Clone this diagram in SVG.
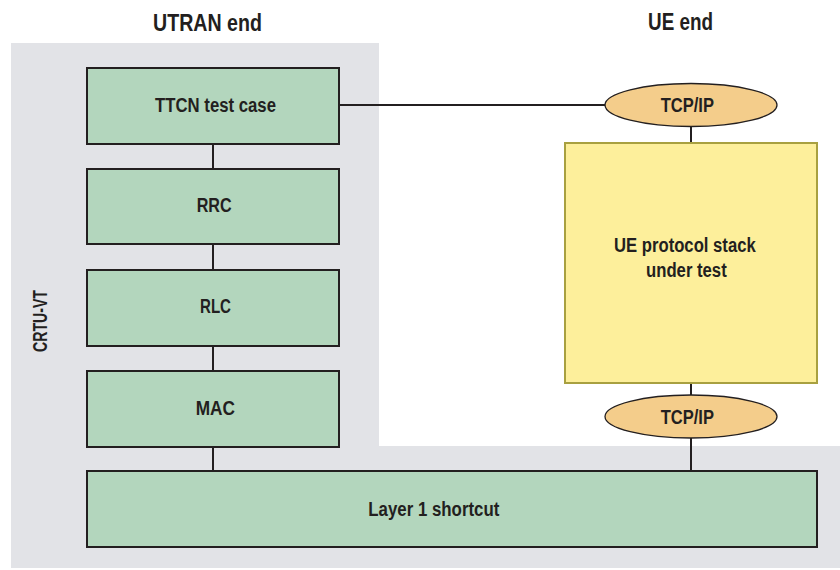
<svg xmlns="http://www.w3.org/2000/svg" width="840" height="570" viewBox="0 0 840 570">
<style>
text{font-family:"Liberation Sans",Arial,sans-serif;font-weight:bold;fill:#231f20}
.t{font-size:19.5px}
.h{font-size:23px}
.g{fill:#b3d6bd;stroke:#231f20;stroke-width:2}
.e{fill:#f4cd8b;stroke:#231f20;stroke-width:1.3}
.c line{stroke:#231f20;stroke-width:2}
</style>
<path d="M11 43H379V446H840V568H11Z" fill="#e2e3e7"/>
<text class="h" x="153" y="31" textLength="109" lengthAdjust="spacingAndGlyphs">UTRAN end</text>
<text class="h" x="648" y="30" textLength="65" lengthAdjust="spacingAndGlyphs">UE end</text>
<text class="t" transform="translate(47 352) rotate(-90)" textLength="62" lengthAdjust="spacingAndGlyphs">CRTU-VT</text>
<g class="c">
<line x1="339" y1="105" x2="606" y2="105"/>
<line x1="213" y1="144" x2="213" y2="169"/>
<line x1="213" y1="244" x2="213" y2="270"/>
<line x1="213" y1="346" x2="213" y2="371"/>
<line x1="213" y1="447" x2="213" y2="471"/>
<line x1="691" y1="127" x2="691" y2="143"/>
<line x1="691" y1="383" x2="691" y2="395"/>
<line x1="691" y1="438" x2="691" y2="471"/>
</g>
<g id="ttcn"><rect class="g" x="87" y="68" width="252" height="76"/><text class="t" x="155" y="112" textLength="121" lengthAdjust="spacingAndGlyphs">TTCN test case</text></g>
<g id="rrc"><rect class="g" x="87" y="169" width="252" height="75"/><text class="t" x="196.7" y="212.3" textLength="35" lengthAdjust="spacingAndGlyphs">RRC</text></g>
<g id="rlc"><rect class="g" x="87" y="270" width="252" height="76"/><text class="t" x="200" y="313.3" textLength="31" lengthAdjust="spacingAndGlyphs">RLC</text></g>
<g id="mac"><rect class="g" x="87" y="371" width="252" height="76"/><text class="t" x="195.7" y="415" textLength="39.3" lengthAdjust="spacingAndGlyphs">MAC</text></g>
<g id="l1"><rect class="g" x="87" y="471" width="730" height="76"/><text class="t" x="368.3" y="516" textLength="131" lengthAdjust="spacingAndGlyphs">Layer 1 shortcut</text></g>
<g id="ue"><rect x="565" y="143" width="252" height="240" fill="#fdef9b" stroke="#a8a040" stroke-width="2"/><text class="t" x="614" y="251.5" textLength="141.7" lengthAdjust="spacingAndGlyphs">UE protocol stack</text><text class="t" x="646" y="276.7" textLength="80.7" lengthAdjust="spacingAndGlyphs">under test</text></g>
<g id="tcp1"><ellipse class="e" cx="691" cy="105" rx="86" ry="21.5"/><text class="t" x="660.7" y="111.7" textLength="53.3" lengthAdjust="spacingAndGlyphs">TCP/IP</text></g>
<g id="tcp2"><ellipse class="e" cx="691" cy="416.5" rx="86" ry="21.5"/><text class="t" x="660.7" y="423.5" textLength="53.3" lengthAdjust="spacingAndGlyphs">TCP/IP</text></g>
</svg>
